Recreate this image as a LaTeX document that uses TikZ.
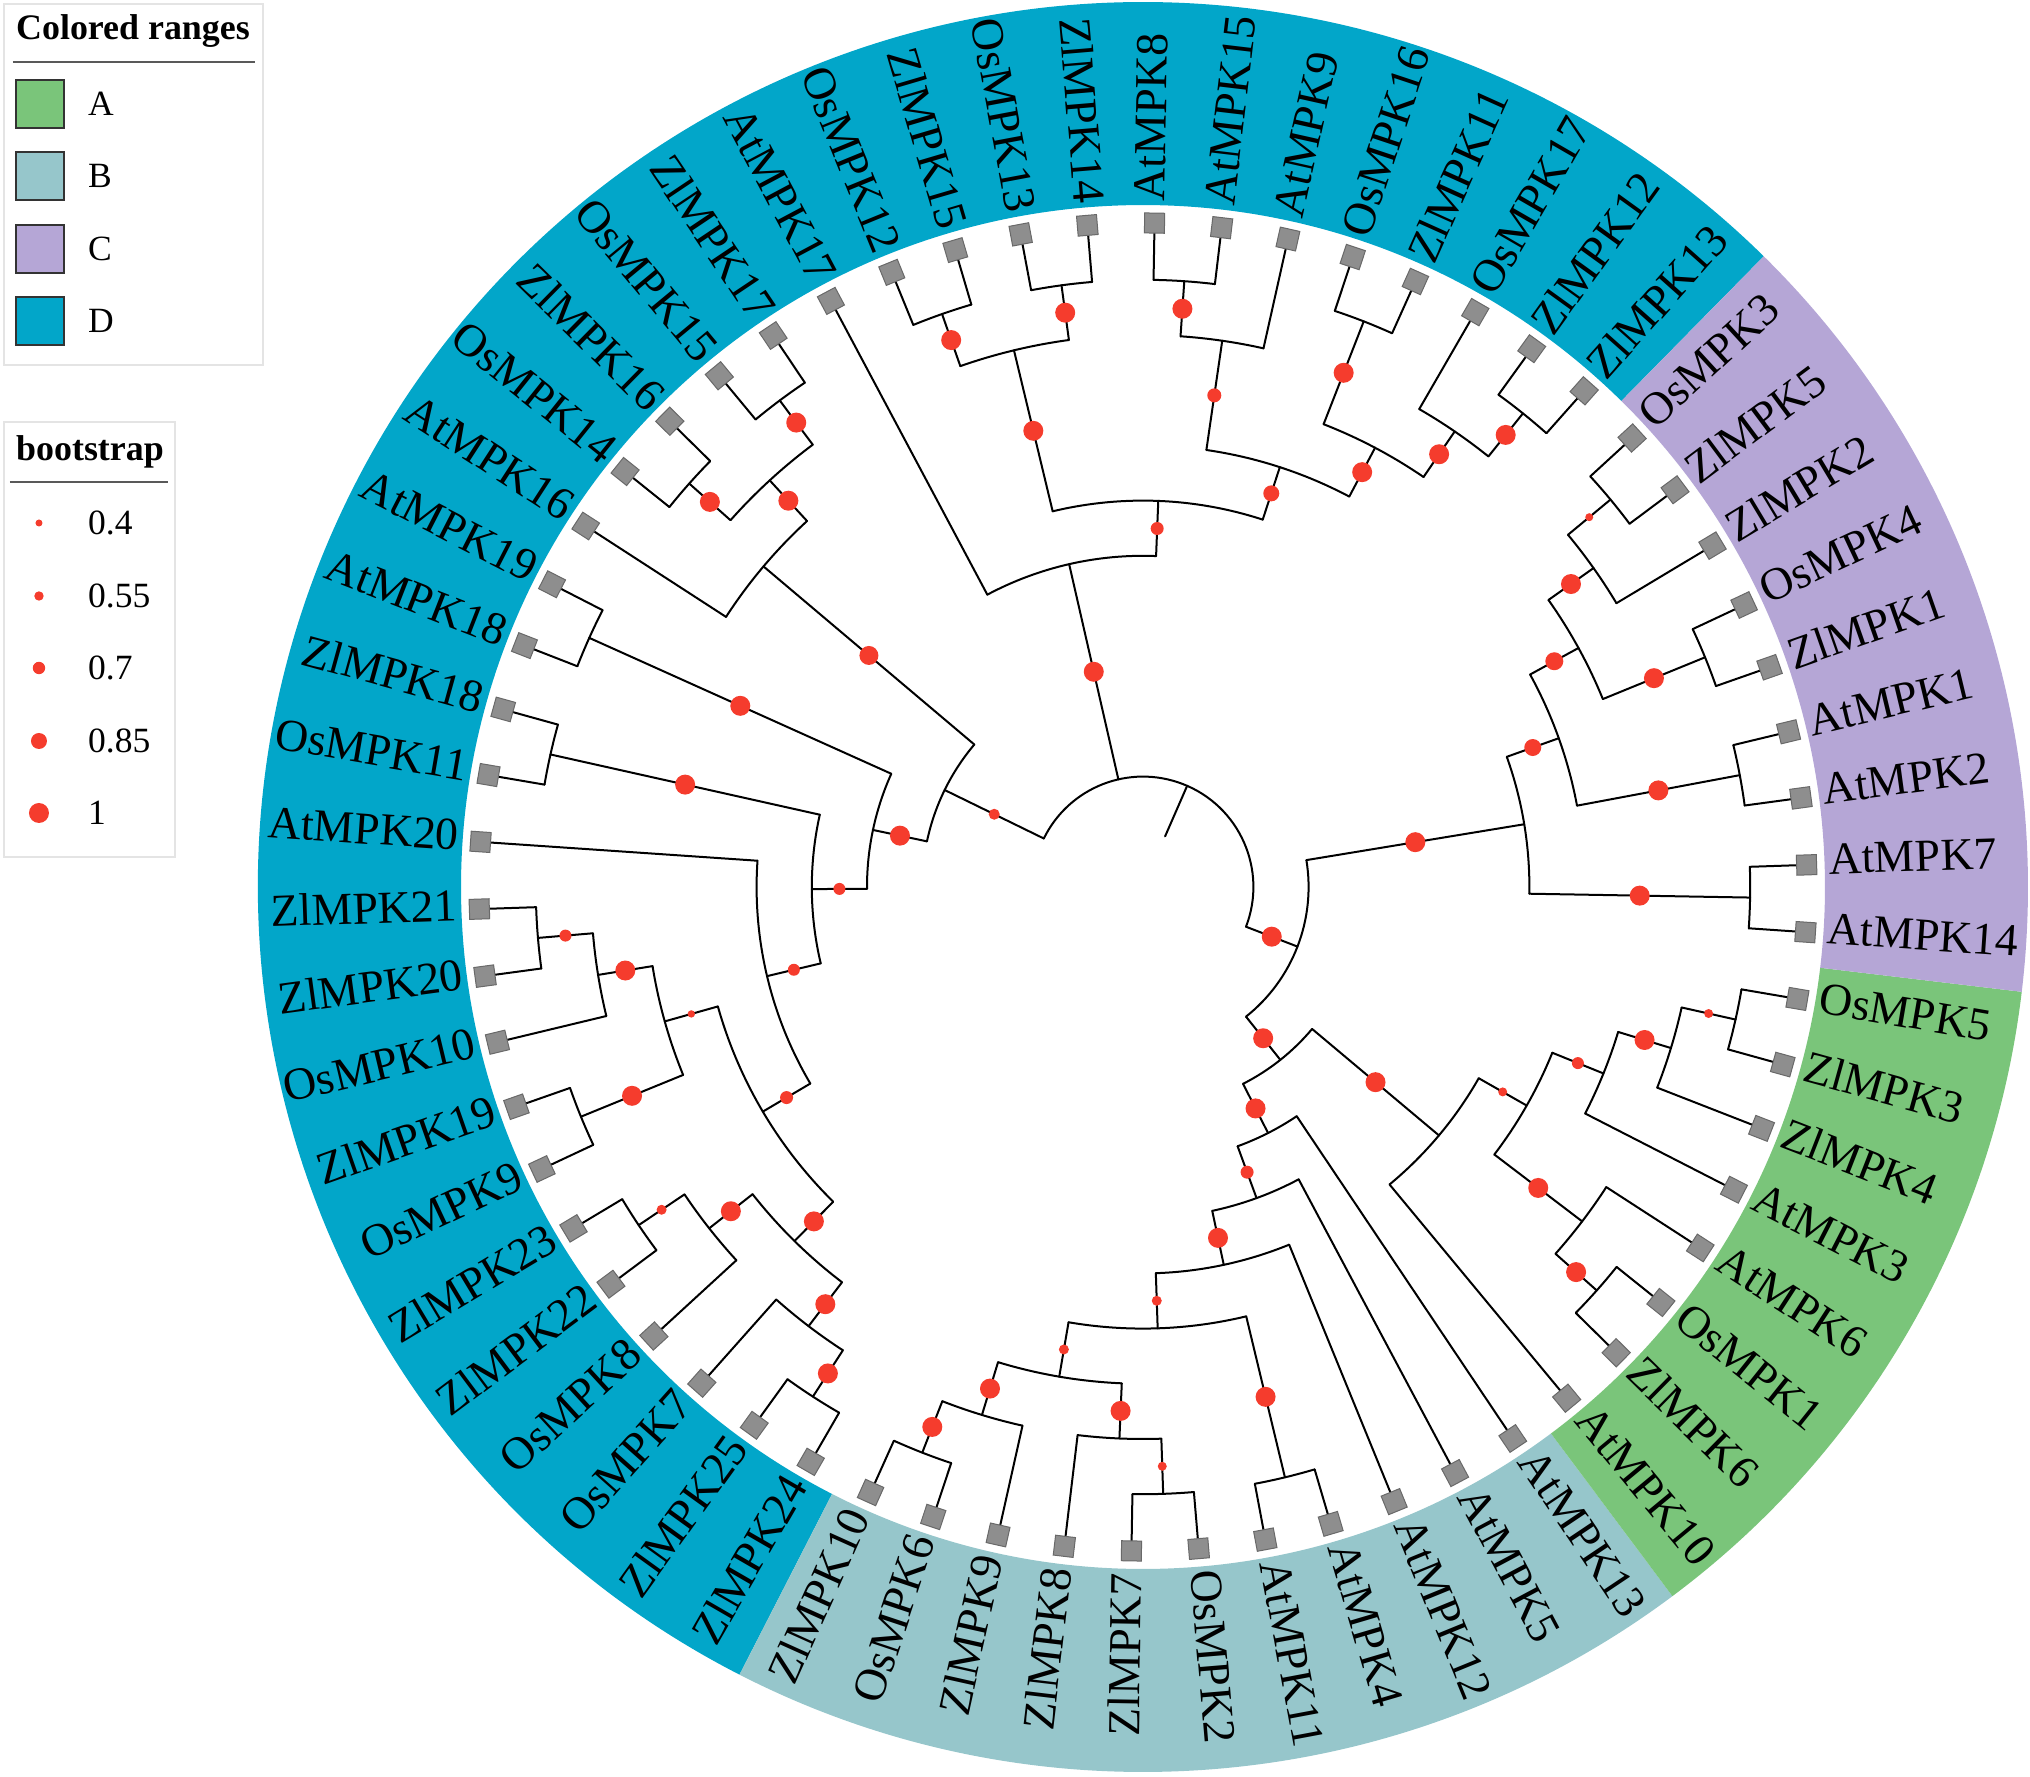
\documentclass[tikz,border=0pt]{standalone}
\usepackage{fontspec}
\setmainfont{Liberation Serif}
\pgfdeclarelayer{fg}
\pgfsetlayers{main,fg}
\definecolor{rangeA}{RGB}{122,197,122}
\definecolor{rangeB}{RGB}{150,198,203}
\definecolor{rangeC}{RGB}{181,166,214}
\definecolor{rangeD}{RGB}{2,166,201}
\definecolor{bsred}{RGB}{245,60,45}
\definecolor{sqfill}{RGB}{142,142,142}
\definecolor{sqdraw}{RGB}{105,105,105}
\definecolor{legbox}{RGB}{228,228,228}
\makeatletter
\newcommand\tsetA[2]{\pgfmathsetmacro\t@mp{#2}\expandafter\let\csname tA@#1\endcsname\t@mp}
\newcommand\tA[1]{\csname tA@#1\endcsname}
\newcommand\tsetR[2]{\pgfmathsetmacro\t@mp{#2}\expandafter\let\csname tR@#1\endcsname\t@mp}
\newcommand\tR[1]{\csname tR@#1\endcsname}
\makeatother
% leaf: name, index, label
\newcommand\leaf[3]{%
  \tsetA{#1}{-3.9+#2*5.80645-(#2>42)*360}%
  \tsetR{#1}{662.4}%
  \coordinate (#1) at (\tA{#1}:\tR{#1});%
  \begin{pgfonlayer}{fg}\node[leafsq,rotate=\tA{#1}] (#1sq) at (\tA{#1}:664) {};\end{pgfonlayer}%
  \pgfmathtruncatemacro\lside{cos(\tA{#1})>0}%
  \ifnum\lside=1
    \path (\tA{#1}:686) ++(\tA{#1}+90:5) node[lbl,anchor=west,rotate=\tA{#1}] (#1lb) {#3};%
  \else
    \path (\tA{#1}:686) ++(\tA{#1}-90:5) node[lbl,anchor=east,rotate=\tA{#1}+180] (#1lb) {#3};%
  \fi}
% internal node: name, level, first child, last child
\newcommand\inode[4]{%
  \tsetA{#1}{(\tA{#3}+\tA{#4})/2}%
  \tsetR{#1}{#2*55.2}%
  \coordinate (#1) at (\tA{#1}:\tR{#1});%
  \draw[br] (\tA{#3}:\tR{#1}) arc[start angle=\tA{#3}, end angle=\tA{#4}, radius=\tR{#1}];}
% edge: parent, child, dot radius
\newcommand\edge[3]{%
  \draw[br] (#2) -- (\tA{#2}:\tR{#1});%
  \ifdim #3pt>0pt
    \pgfmathsetmacro\midr{(\tR{#1}+\tR{#2})/2}%
    \begin{pgfonlayer}{fg}\fill[bsred] (\tA{#2}:\midr) circle[radius=#3];\end{pgfonlayer}%
  \fi}
\newcommand\cherry[3]{\inode{#1}{11}{#2}{#3}\edge{#1}{#2}{0}\edge{#1}{#3}{0}}
\begin{document}
\begin{tikzpicture}[x=1pt,y=1pt,
  br/.style={line width=2pt,line cap=round,line join=round,black},
  leafsq/.style={draw=sqdraw,fill=sqfill,line width=1pt,minimum size=20pt,inner sep=0pt,rectangle},
  lbl/.style={inner sep=0pt,font=\fontsize{45.8pt}{50pt}\selectfont},
  legtxt/.style={inner sep=0pt,font=\fontsize{35.5pt}{40pt}\selectfont},
  legtitle/.style={inner sep=0pt,font=\bfseries\fontsize{35.9pt}{40pt}\selectfont},
  swatch/.style={draw=black!80,line width=1.5pt}]
\useasboundingbox (-1143,-890) rectangle (887,887);
% colored ranges
\fill[rangeD] (45.455:682) arc[start angle=45.455,end angle=242.874,radius=682] -- (242.874:885) arc[start angle=242.874,end angle=45.455,radius=885] -- cycle;
\fill[rangeB] (242.874:682) arc[start angle=242.874,end angle=306.745,radius=682] -- (306.745:885) arc[start angle=306.745,end angle=242.874,radius=885] -- cycle;
\fill[rangeA] (306.745:682) arc[start angle=306.745,end angle=353.197,radius=682] -- (353.197:885) arc[start angle=353.197,end angle=306.745,radius=885] -- cycle;
\fill[rangeC] (353.197:682) arc[start angle=353.197,end angle=405.455,radius=682] -- (405.455:885) arc[start angle=405.455,end angle=353.197,radius=885] -- cycle;
% leaves
\leaf{L0}{0}{AtMPK14}\leaf{L1}{1}{AtMPK7}\leaf{L2}{2}{AtMPK2}\leaf{L3}{3}{AtMPK1}
\leaf{L4}{4}{ZlMPK1}\leaf{L5}{5}{OsMPK4}\leaf{L6}{6}{ZlMPK2}\leaf{L7}{7}{ZlMPK5}
\leaf{L8}{8}{OsMPK3}\leaf{L9}{9}{ZlMPK13}\leaf{L10}{10}{ZlMPK12}\leaf{L11}{11}{OsMPK17}
\leaf{L12}{12}{ZlMPK11}\leaf{L13}{13}{OsMPK16}\leaf{L14}{14}{AtMPK9}\leaf{L15}{15}{AtMPK15}
\leaf{L16}{16}{AtMPK8}\leaf{L17}{17}{ZlMPK14}\leaf{L18}{18}{OsMPK13}\leaf{L19}{19}{ZlMPK15}
\leaf{L20}{20}{OsMPK12}\leaf{L21}{21}{AtMPK17}\leaf{L22}{22}{ZlMPK17}\leaf{L23}{23}{OsMPK15}
\leaf{L24}{24}{ZlMPK16}\leaf{L25}{25}{OsMPK14}\leaf{L26}{26}{AtMPK16}\leaf{L27}{27}{AtMPK19}
\leaf{L28}{28}{AtMPK18}\leaf{L29}{29}{ZlMPK18}\leaf{L30}{30}{OsMPK11}\leaf{L31}{31}{AtMPK20}
\leaf{L32}{32}{ZlMPK21}\leaf{L33}{33}{ZlMPK20}\leaf{L34}{34}{OsMPK10}\leaf{L35}{35}{ZlMPK19}
\leaf{L36}{36}{OsMPK9}\leaf{L37}{37}{ZlMPK23}\leaf{L38}{38}{ZlMPK22}\leaf{L39}{39}{OsMPK8}
\leaf{L40}{40}{OsMPK7}\leaf{L41}{41}{ZlMPK25}\leaf{L42}{42}{ZlMPK24}\leaf{L43}{43}{ZlMPK10}
\leaf{L44}{44}{OsMPK6}\leaf{L45}{45}{ZlMPK9}\leaf{L46}{46}{ZlMPK8}\leaf{L47}{47}{ZlMPK7}
\leaf{L48}{48}{OsMPK2}\leaf{L49}{49}{AtMPK11}\leaf{L50}{50}{AtMPK4}\leaf{L51}{51}{AtMPK12}
\leaf{L52}{52}{AtMPK5}\leaf{L53}{53}{AtMPK13}\leaf{L54}{54}{AtMPK10}\leaf{L55}{55}{ZlMPK6}
\leaf{L56}{56}{OsMPK1}\leaf{L57}{57}{AtMPK6}\leaf{L58}{58}{AtMPK3}\leaf{L59}{59}{ZlMPK4}
\leaf{L60}{60}{ZlMPK3}\leaf{L61}{61}{OsMPK5}
% clade C
\cherry{c1}{L0}{L1}\cherry{c2}{L2}{L3}\cherry{c3}{L4}{L5}\cherry{c4}{L7}{L8}
\inode{q1}{10}{L6}{c4}\edge{q1}{L6}{0}\edge{q1}{c4}{4}
\inode{q2}{9}{c3}{q1}\edge{q2}{c3}{10}\edge{q2}{q1}{10}
\inode{p1}{8}{c2}{q2}\edge{p1}{c2}{10}\edge{p1}{q2}{9}
\inode{cc}{7}{c1}{p1}\edge{cc}{c1}{10}\edge{cc}{p1}{8.5}
% upper D
\cherry{x7b}{L9}{L10}
\inode{x7}{10}{x7b}{L11}\edge{x7}{x7b}{10}\edge{x7}{L11}{0}
\cherry{x6a}{L12}{L13}
\inode{x6}{9}{x7}{x6a}\edge{x6}{x7}{10}\edge{x6}{x6a}{10}
\cherry{x5a}{L15}{L16}
\inode{x5}{10}{L14}{x5a}\edge{x5}{L14}{0}\edge{x5}{x5a}{10}
\inode{x4}{8}{x6}{x5}\edge{x4}{x6}{10}\edge{x4}{x5}{7}
\cherry{x3b}{L17}{L18}\cherry{x3a}{L19}{L20}
\inode{x3}{10}{x3b}{x3a}\edge{x3}{x3b}{10}\edge{x3}{x3a}{10}
\inode{x2}{7}{x4}{x3}\edge{x2}{x4}{8}\edge{x2}{x3}{10}
\inode{xx}{6}{x2}{L21}\edge{xx}{x2}{6.5}\edge{xx}{L21}{0}
% left D
\cherry{ya}{L22}{L23}\cherry{yb}{L24}{L25}
\inode{y1b}{10}{ya}{yb}\edge{y1b}{ya}{10}\edge{y1b}{yb}{10}
\inode{y1}{9}{y1b}{L26}\edge{y1}{y1b}{10}\edge{y1}{L26}{0}
\cherry{y3}{L27}{L28}\cherry{y5}{L29}{L30}
\cherry{y8aa}{L32}{L33}
\inode{y8a}{10}{y8aa}{L34}\edge{y8a}{y8aa}{6}\edge{y8a}{L34}{0}
\cherry{y8b}{L35}{L36}
\inode{y8}{9}{y8a}{y8b}\edge{y8}{y8a}{10}\edge{y8}{y8b}{10}
\cherry{y9aa}{L37}{L38}
\inode{y9a}{10}{y9aa}{L39}\edge{y9a}{y9aa}{5}\edge{y9a}{L39}{0}
\cherry{y9bb}{L41}{L42}
\inode{y9b}{10}{L40}{y9bb}\edge{y9b}{L40}{0}\edge{y9b}{y9bb}{10}
\inode{y9}{9}{y9a}{y9b}\edge{y9}{y9a}{10}\edge{y9}{y9b}{10}
\inode{y7}{8}{y8}{y9}\edge{y7}{y8}{3.7}\edge{y7}{y9}{10}
\inode{y6}{7}{L31}{y7}\edge{y6}{L31}{0}\edge{y6}{y7}{6.5}
\inode{y4}{6}{y5}{y6}\edge{y4}{y5}{10}\edge{y4}{y6}{6}
\inode{y2}{5}{y3}{y4}\edge{y2}{y3}{10}\edge{y2}{y4}{6}
\inode{yy}{4}{y1}{y2}\edge{yy}{y1}{9.5}\edge{yy}{y2}{10}
% clade B
\cherry{b7c}{L43}{L44}
\inode{b7}{10}{b7c}{L45}\edge{b7}{b7c}{10}\edge{b7}{L45}{0}
\cherry{b8c}{L47}{L48}
\inode{b8}{10}{L46}{b8c}\edge{b8}{L46}{0}\edge{b8}{b8c}{4.5}
\inode{b5}{9}{b7}{b8}\edge{b5}{b7}{10}\edge{b5}{b8}{10}
\cherry{b6}{L49}{L50}
\inode{b4}{8}{b5}{b6}\edge{b4}{b5}{5}\edge{b4}{b6}{10}
\inode{b3}{7}{b4}{L51}\edge{b3}{b4}{5}\edge{b3}{L51}{0}
\inode{b2}{6}{b3}{L52}\edge{b2}{b3}{10}\edge{b2}{L52}{0}
\inode{bb}{5}{b2}{L53}\edge{bb}{b2}{6.5}\edge{bb}{L53}{0}
% clade A
\cherry{a4c}{L55}{L56}
\inode{a4}{10}{a4c}{L57}\edge{a4}{a4c}{10}\edge{a4}{L57}{0}
\cherry{a5c}{L60}{L61}
\inode{a5}{10}{L59}{a5c}\edge{a5}{L59}{0}\edge{a5}{a5c}{4.5}
\inode{a3}{9}{L58}{a5}\edge{a3}{L58}{0}\edge{a3}{a5}{10}
\inode{a2}{8}{a4}{a3}\edge{a2}{a4}{10}\edge{a2}{a3}{6}
\inode{aa}{7}{L54}{a2}\edge{aa}{L54}{0}\edge{aa}{a2}{4.5}
% backbone
\inode{ab}{4}{bb}{aa}\edge{ab}{bb}{10}\edge{ab}{aa}{10}
\inode{abc}{3}{ab}{cc}\edge{abc}{ab}{10}\edge{abc}{cc}{10}
\inode{root}{2}{abc}{yy}\edge{root}{abc}{10}\edge{root}{xx}{10}\edge{root}{yy}{5.5}
\coordinate (rootbase) at (\tA{root}:55.2);
\draw[br] (root) -- (rootbase);
% legend: colored ranges
\draw[legbox,line width=1.5pt] (-1139,883) rectangle (-880,522);
\node[legtitle] (lgt1) at (-1010,856) {Colored ranges};
\draw[black!65,line width=1.5pt] (-1130,825) -- (-888,825);
\draw[swatch,fill=rangeA] (-1127,759) rectangle (-1079,807);
\draw[swatch,fill=rangeB] (-1127,687) rectangle (-1079,735);
\draw[swatch,fill=rangeC] (-1127,614) rectangle (-1079,662);
\draw[swatch,fill=rangeD] (-1127,542) rectangle (-1079,590);
\node[legtxt,anchor=west] (lgA) at (-1055,783) {A};
\node[legtxt,anchor=west] (lgB) at (-1055,711) {B};
\node[legtxt,anchor=west] (lgC) at (-1055,638) {C};
\node[legtxt,anchor=west] (lgD) at (-1055,566) {D};
% legend: bootstrap
\draw[legbox,line width=1.5pt] (-1139,465) rectangle (-968,30);
\node[legtitle] (lgt2) at (-1053,435) {bootstrap};
\draw[black!65,line width=1.5pt] (-1133,405) -- (-975,405);
\fill[bsred] (-1104,364) circle[radius=3.5];
\fill[bsred] (-1104,291) circle[radius=4.7];
\fill[bsred] (-1104,219) circle[radius=6.2];
\fill[bsred] (-1104,146) circle[radius=8];
\fill[bsred] (-1104,74) circle[radius=10];
\node[legtxt,anchor=west] (lb1) at (-1055,364) {0.4};
\node[legtxt,anchor=west] (lb2) at (-1055,291) {0.55};
\node[legtxt,anchor=west] (lb3) at (-1055,219) {0.7};
\node[legtxt,anchor=west] (lb4) at (-1055,146) {0.85};
\node[legtxt,anchor=west] (lb5) at (-1055,74) {1};
\end{tikzpicture}
\end{document}
